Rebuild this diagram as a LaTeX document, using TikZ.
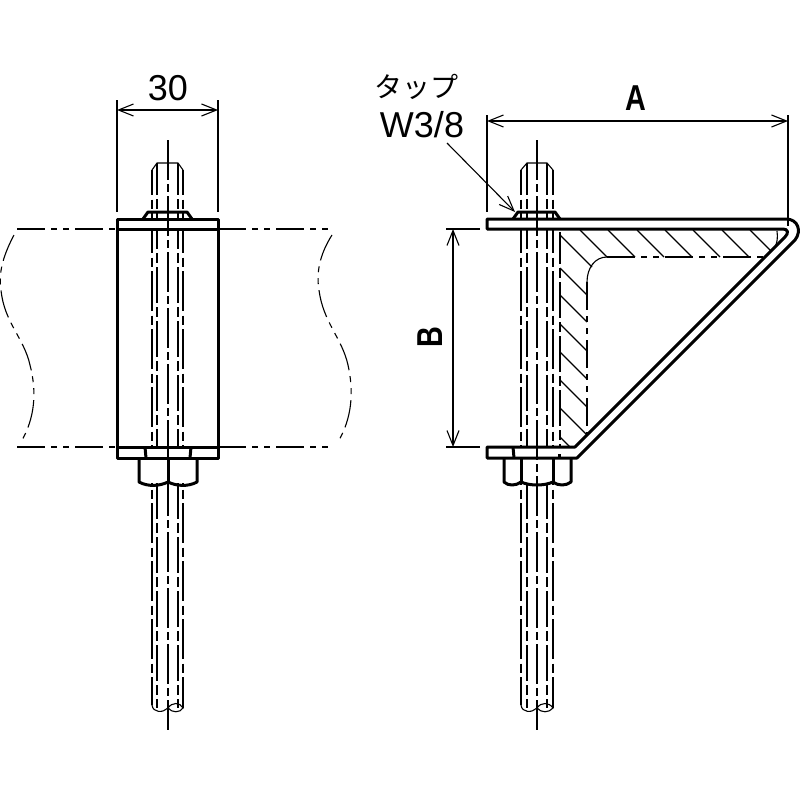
\documentclass[tikz,border=0pt]{standalone}
\usepackage{graphicx}
\usepackage{fontspec}
\setmainfont{Liberation Sans}
\newfontfamily\cjk{Noto Sans CJK JP}
\usetikzlibrary{arrows.meta}

\begin{document}
\begin{tikzpicture}[%
      x=1pt,y=-1pt,
      heavyline/.style={color=black, line width=3pt, line join=round},
      thinline/.style={color=black, line width=1.1pt},
      dimline/.style={color=black, line width=1.1pt, {Straight Barb[length=15pt,width=12pt]}-{Straight Barb[length=15pt,width=12pt]}},
      leader/.style={color=black, line width=1.1pt, -{Straight Barb[length=15pt,width=12pt]}},
      outerrod/.style={color=black, line width=1.3pt, dash pattern=on 40pt off 4.5pt on 9pt off 4.5pt, dash phase=15pt},
      innerrod/.style={color=black, line width=1.3pt, dash pattern=on 36pt off 4pt on 10pt off 4pt, dash phase=4pt},
      centerline/.style={color=black, line width=1.1pt, dash pattern=on 40pt off 4pt on 8pt off 4pt},
      phantom/.style={color=black, line width=1.1pt, dash pattern=on 28pt off 6pt on 6pt off 6pt on 6pt off 6pt},
      label/.style={inner sep=0pt, font=\fontsize{36}{38}\selectfont},
      ]
      \useasboundingbox (0,0) rectangle (800,800);

      \draw [phantom] (17,229) -- (117,229);
      \draw [phantom] (218,229) -- (333,229);
      \draw [phantom] (17,447) -- (117,447);
      \draw [phantom] (218,447) -- (333,447);
      \draw [phantom] (14,235) .. controls (4,254) and (-2,272) .. (1,290) .. controls (4,322) and (24,338) .. (30,365) .. controls (37,392) and (35,418) .. (21,442);
      \draw [phantom] (332,235) .. controls (320,254) and (316,272) .. (319,290) .. controls (323,322) and (342,338) .. (348,365) .. controls (354,392) and (352,418) .. (338,442);

      \draw [outerrod] (152,170) -- (152,705);
      \draw [outerrod] (183,170) -- (183,705);
      \draw [innerrod] (157,163) -- (157,708);
      \draw [innerrod] (178,163) -- (178,708);
      \draw [outerrod] (521,170) -- (521,705);
      \draw [outerrod] (553,170) -- (553,705);
      \draw [innerrod] (527,163) -- (527,708);
      \draw [innerrod] (547,163) -- (547,708);
      \draw [innerrod] (560,232) -- (560,447);

      \fill [color=white] (117,219) rectangle (218,229);
      \fill [color=white] (117,447) rectangle (218,458);
      \fill [color=white] (139,458) rectangle (197,483);
      \fill [color=white] (487,219) rectangle (600,229);
      \fill [color=white] (487,447) rectangle (575,458);
      \fill [color=white] (504,458) rectangle (571,483);

      \draw [centerline] (168,140) -- (168,730);
      \draw [centerline] (537,140) -- (537,730);

      \draw [thinline] (152,170) -- (157,163) -- (178,163) -- (183,170);
      \draw [thinline] (521,170) -- (527,163) -- (547,163) -- (553,170);
      \draw [thinline] (152,705) .. controls (153,713) and (163,713) .. (168,708) .. controls (172,702) and (180,702) .. (183,708) .. controls (180,713) and (172,713) .. (168,708);
      \draw [thinline] (183,705) -- (183,708);
      \draw [thinline] (521,705) .. controls (522,713) and (532,713) .. (537,708) .. controls (541,702) and (549,702) .. (553,708) .. controls (549,713) and (541,713) .. (537,708);
      \draw [thinline] (553,705) -- (553,708);

      \draw [heavyline] (143,219) -- (148,212) -- (187,212) -- (192,219);
      \draw [heavyline] (513,219) -- (518,212) -- (555,212) -- (560,219);
      \draw [heavyline] (117,219) -- (218,219) -- (218,458) -- (117,458) -- cycle;
      \draw [heavyline] (117,229) -- (218,229);
      \draw [heavyline] (117,447) -- (218,447);
      \draw [heavyline] (145,447) -- (146,458);
      \draw [heavyline] (191,447) -- (190,458);
      \draw [heavyline] (139,458) -- (139,482) .. controls (148,487) and (160,486) .. (168,482) .. controls (176,486) and (188,487) .. (197,482) -- (197,458);
      \draw [heavyline] (168,458) -- (168,482);

      \draw [heavyline] (553,219) -- (786,219) .. controls (798,219) and (802,231) .. (795,240) -- (577,458) -- (487,458) -- (487,447) -- (575,447) -- (785,237) .. controls (789,233) and (788,229) .. (783,229) -- (487,229) -- (487,219) -- (553,219);
      \draw [heavyline] (513,447) -- (514,458);
      \draw [heavyline] (559,454) -- (559,458);
      \draw [heavyline] (504,458) -- (504,482) .. controls (508,486) and (516,486) .. (521,482) .. controls (530,486) and (544,486) .. (553,482) .. controls (558,486) and (566,486) .. (571,482) -- (571,458);
      \draw [heavyline] (521,458) -- (521,482);
      \draw [heavyline] (553,458) -- (553,482);

      \draw [thinline] (587,282) .. controls (587,268) and (595,257) .. (607,257);
      \draw [phantom] (607,257) -- (765,257);
      \draw [phantom] (587,282) -- (587,435);
      \draw [thinline] (777,231) .. controls (778,238) and (777,243) .. (775,247);

      \draw [thinline] (560,437) -- (570,447);
      \draw [thinline] (560,408) -- (587,435);
      \draw [thinline] (560,380) -- (587,407);
      \draw [thinline] (560,352) -- (587,379);
      \draw [thinline] (560,324) -- (587,351);
      \draw [thinline] (560,295) -- (587,322);
      \draw [thinline] (560,268) -- (587,295);
      \draw [thinline] (560,235) -- (592,267);
      \draw [thinline] (580,230) -- (607,257);
      \draw [thinline] (608,230) -- (635,257);
      \draw [thinline] (637,230) -- (664,257);
      \draw [thinline] (665,230) -- (692,257);
      \draw [thinline] (693,230) -- (720,257);
      \draw [thinline] (722,230) -- (749,257);
      \draw [thinline] (750,230) -- (771,251);

      \coordinate (widthL) at (117,110);
      \coordinate (widthR) at (218,110);
      \coordinate (widthLtop) at (117,100);
      \coordinate (widthLbot) at (117,212);
      \coordinate (widthRtop) at (218,100);
      \coordinate (widthRbot) at (218,212);
      \draw [thinline] (widthLtop) -- (widthLbot);
      \draw [thinline] (widthRtop) -- (widthRbot);
      \draw [dimline] (widthL) -- (widthR);

      \coordinate (aL) at (487,121);
      \coordinate (aR) at (788,121);
      \coordinate (aLtop) at (487,115);
      \coordinate (aLbot) at (487,212);
      \coordinate (aRtop) at (788,115);
      \coordinate (aRbot) at (788,226);
      \draw [thinline] (aLtop) -- (aLbot);
      \draw [thinline] (aRtop) -- (aRbot);
      \draw [dimline] (aL) -- (aR);

      \coordinate (bTop) at (453,229);
      \coordinate (bBot) at (453,447);
      \coordinate (bTopL) at (446,229);
      \coordinate (bTopR) at (480,229);
      \coordinate (bBotL) at (446,447);
      \coordinate (bBotR) at (480,447);
      \draw [thinline] (bTopL) -- (bTopR);
      \draw [thinline] (bBotL) -- (bBotR);
      \draw [dimline] (bTop) -- (bBot);

      \coordinate (tapFrom) at (447,143);
      \coordinate (tapTo) at (515,212);
      \draw [leader] (tapFrom) -- (tapTo);

      \node [label] (lblThirty) at (168,88) {30};
      \node [label] (lblA) at (636,98) {\scalebox{0.8}[1]{\bfseries A}};
      \node [label, rotate=90] (lblB) at (430,337) {\scalebox{0.8}[1]{\bfseries B}};
      \node [label, font=\fontsize{28}{30}\selectfont\cjk] (lblTap) at (416,87) {タップ};
      \node [label] (lblSize) at (422,125) {W3/8};
      \end{tikzpicture}
\end{document}
